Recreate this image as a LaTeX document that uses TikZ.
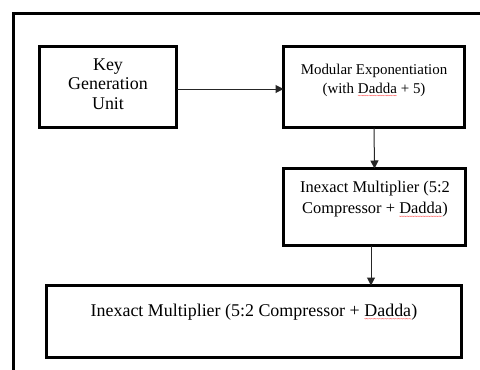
\documentclass[tikz,border=0pt]{standalone}
\usepackage{fontspec}
\setmainfont{Liberation Serif}
\usetikzlibrary{arrows.meta,decorations.pathmorphing}
\newcommand\sqword[1]{\tikz[baseline=(w.base),x=1bp,y=1bp]{\node[inner sep=0pt,outer sep=0pt](w){#1};\draw[red!60,line width=0.3bp,decorate,decoration={snake,amplitude=0.4bp,segment length=1.6bp}]([yshift=-2.4bp]w.base west)--([yshift=-2.4bp]w.base east);}}
\begin{document}
\begin{tikzpicture}[x=1bp,y=-1bp,
  blk/.style={draw=black,line width=3bp,fill=white,inner sep=0pt,outer sep=0pt},
  txt/.style={inner sep=0pt,align=center,text=black},
  conn/.style={draw=black!85,line width=1bp,-{Triangle[length=8bp,width=8bp]}}]
\useasboundingbox (0,0) rectangle (480,369);
\clip (0,0) rectangle (480,369);
\fill[white] (0,0) rectangle (480,369);
% outer frame
\draw[line width=2.5bp] (13.5,400) -- (13.5,13.5) -- (500,13.5);
% boxes
\node[blk,minimum width=137bp,minimum height=81bp] (key) at (108,87) {};
\node[blk,minimum width=181bp,minimum height=81bp] (mod) at (374,87) {};
\node[blk,minimum width=182bp,minimum height=77bp] (inx) at (374.5,207) {};
\node[blk,minimum width=415bp,minimum height=72bp] (out) at (254,321.5) {};
% texts
\node[txt,font=\fontsize{18}{19.5}\selectfont] (tkey) at (108,84) {Key\\Generation\\Unit};
\node[txt,font=\fontsize{15}{19}\selectfont] (tmod) at (374,80) {Modular Exponentiation\\(with \sqword{Dadda} + 5)};
\node[txt,font=\fontsize{16.5}{22}\selectfont] (tinx) at (375,199) {Inexact Multiplier (5:2\\Compressor + \sqword{Dadda})};
\node[txt,font=\fontsize{18}{20}\selectfont] (tout) at (254,312) {Inexact Multiplier (5:2 Compressor + \sqword{Dadda})};
% connectors
\draw[conn] ([yshift=-2bp]key.east) -- ([yshift=-2bp]mod.west);
\draw[conn] (mod.south) -- (inx.north);
\coordinate (a) at ([xshift=-3.5bp]inx.south);
\draw[conn] (a) -- (a |- out.north);
\end{tikzpicture}
\end{document}
